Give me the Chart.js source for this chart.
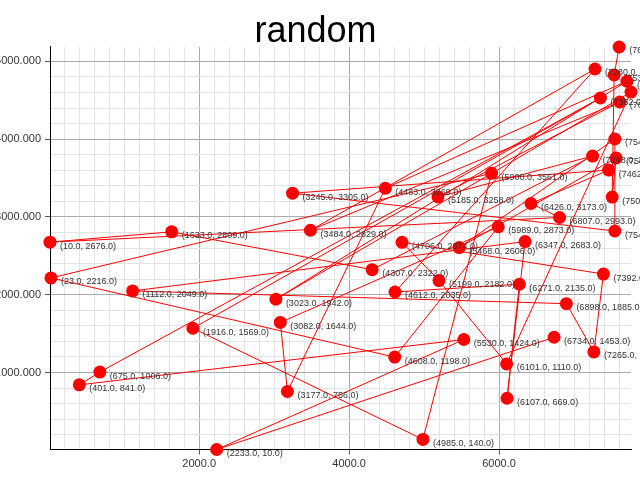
<!DOCTYPE html>
<html>
<head>
<meta charset="utf-8">
<script src="https://cdn.jsdelivr.net/npm/chart.js@4.4.1/dist/chart.umd.min.js"></script>
<style>
  body { margin: 0; background: #fff; }
  canvas { display: block; }
</style>
</head>
<body>
<canvas id="chart" width="640" height="480"></canvas>
<script>
// points in drawing order (x, y)
const xValues = [6734, 2233, 5530, 401, 675, 7352, 1916, 4985, 5900, 23, 4608, 5989, 3082, 3177, 4483, 7706, 3023, 7760, 6101, 5199, 4706, 7392, 7265, 6898, 1112, 6347, 6107, 6271, 4612, 7280, 3484, 7610, 5185, 7248, 4307, 1633, 10, 6807, 6426, 7462, 3245, 7545, 7545, 5468, 7560, 7509, 7535, 7602];
const yValues = [1453, 10, 1424, 841, 1006, 4529, 1569, 140, 3561, 2216, 1198, 2873, 1644, 756, 3369, 4745, 1942, 4606, 1110, 2182, 2674, 2266, 1264, 1885, 2049, 2683, 669, 2135, 2035, 4902, 2829, 4478, 3258, 3783, 2322, 2809, 2676, 2993, 3173, 3603, 3305, 2819, 4002, 2606, 3758, 3256, 4825, 5185];

const xMajor = 2000;
const yMajor = 1000;
const minorStep = 200;

const points = xValues.map((x, i) => ({ x: x, y: yValues[i] }));

const pointLabelPlugin = {
    id: 'pointLabel',
    afterDatasetsDraw(chart) {
        const { ctx } = chart;
        const meta = chart.getDatasetMeta(0).data;

        meta.forEach((pt, index) => {
            const text = '(' + xValues[index].toFixed(1) + ', ' + yValues[index].toFixed(1) + ')';
            ctx.save();
            ctx.font = '9px "Liberation Sans", Arial, sans-serif';
            ctx.fillStyle = '#333';
            ctx.textAlign = 'left';
            ctx.textBaseline = 'middle';
            ctx.fillText(text, pt.x + 10, pt.y + 4);
            ctx.restore();
        });
    }
};

function stepTicks(min, max) {
    const ticks = [];
    for (let v = Math.ceil(min / minorStep) * minorStep; v <= max; v += minorStep) {
        ticks.push({ value: v });
    }
    return ticks;
}

new Chart(document.getElementById('chart'), {
    type: 'scatter',
    data: {
        datasets: [{
            data: points,
            showLine: true,
            borderColor: '#ff0000',
            borderWidth: 1,
            backgroundColor: '#ff0000',
            pointBackgroundColor: '#ff0000',
            pointBorderWidth: 0,
            pointRadius: 6.5,
            tension: 0,
            clip: false
        }]
    },
    options: {
        responsive: false,
        animation: false,
        layout: {
            padding: { left: 0, right: 9, top: 0, bottom: 0 }
        },
        scales: {
            x: {
                type: 'linear',
                min: Math.min(...xValues),
                max: Math.max(...xValues),
                afterBuildTicks: scale => { scale.ticks = stepTicks(scale.min, scale.max); },
                afterFit: scale => { scale.height = 30.5; },
                border: { color: '#000', width: 1 },
                grid: {
                    color: c => (c.tick && c.tick.value % xMajor === 0) ? '#aaaaaa' : '#e4e4e4',
                    tickColor: c => (c.tick && c.tick.value % xMajor === 0) ? '#555' : 'rgba(0,0,0,0)',
                    tickLength: 5
                },
                ticks: {
                    autoSkip: false,
                    maxRotation: 0,
                    padding: 3,
                    color: '#333',
                    font: { family: '"Liberation Sans", Arial, sans-serif', size: 11 },
                    callback: v => v % xMajor === 0 ? v.toFixed(1) : ''
                }
            },
            y: {
                type: 'linear',
                min: Math.min(...yValues),
                max: Math.max(...yValues),
                afterBuildTicks: scale => { scale.ticks = stepTicks(scale.min, scale.max); },
                afterFit: scale => { scale.width = 50; },
                border: { color: '#000', width: 1 },
                grid: {
                    color: c => (c.tick && c.tick.value % yMajor === 0) ? '#aaaaaa' : '#e4e4e4',
                    tickColor: c => (c.tick && c.tick.value % yMajor === 0) ? '#555' : 'rgba(0,0,0,0)',
                    tickLength: 5
                },
                ticks: {
                    autoSkip: false,
                    padding: 4,
                    color: '#333',
                    font: { family: '"Liberation Sans", Arial, sans-serif', size: 11 },
                    callback: v => v % yMajor === 0 ? v.toFixed(3) : ''
                }
            }
        },
        plugins: {
            legend: { display: false },
            tooltip: { enabled: false },
            title: {
                display: true,
                text: 'random',
                color: '#000',
                font: { family: '"Liberation Sans", Arial, sans-serif', size: 36, weight: 'normal' },
                padding: { top: 10, bottom: -6.2 }
            }
        }
    },
    plugins: [pointLabelPlugin]
});
</script>
</body>
</html>
